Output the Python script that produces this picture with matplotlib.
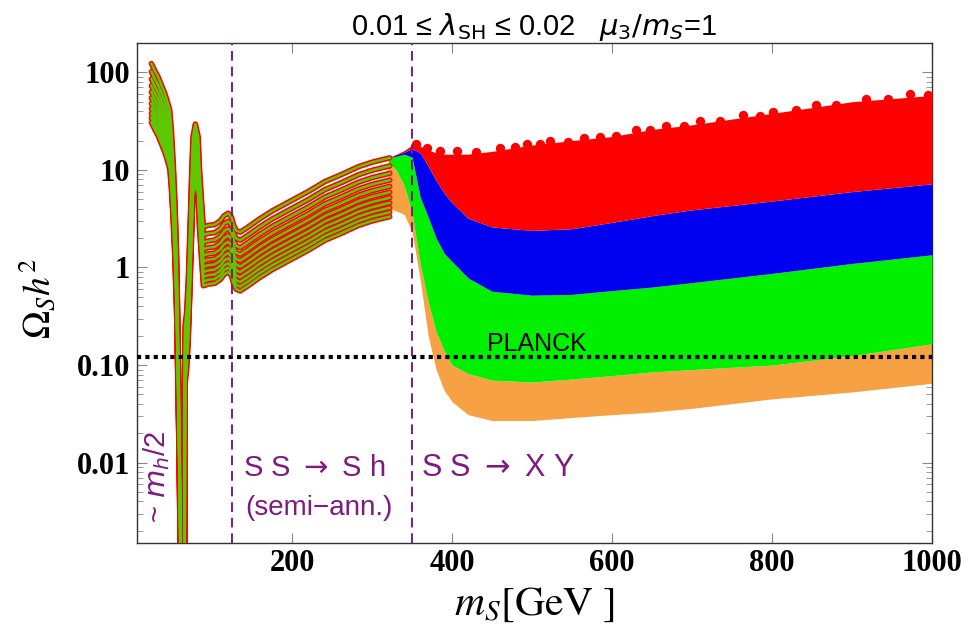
import numpy as np
import matplotlib
matplotlib.use('Agg')
import matplotlib.pyplot as plt
from matplotlib.ticker import FixedLocator, FixedFormatter, LogLocator, NullFormatter

# ------------------------------------------------------------------
# data
# ------------------------------------------------------------------
# lambda_SH values of the low-mass curve family
lam_sh = [0.010, 0.011, 0.012, 0.013, 0.014, 0.015, 0.016, 0.017, 0.018, 0.019, 0.020]

# low-mass curve for lambda_SH = 0.01 (m_S in GeV, Omega h^2)
m_low = [24, 28, 32.5, 36, 40.8, 44, 47, 49, 51.3, 53.4, 55.4, 57, 58.5, 60, 61, 61.6,
         65.5, 66, 68, 70, 72, 74, 76, 79, 82.5, 84, 86.7, 89, 95, 103, 110, 115, 120,
         124, 127, 130, 135, 145, 158, 175, 200, 220, 241, 262, 283, 300, 322]
omega_low = [123, 105, 89.5, 76, 60.6, 50, 40.9, 25.6, 11.8, 4.9, 1.5, 0.3, 0.05, 0.006, 0.0012, 0.0003,
             0.0003, 0.25, 0.35, 0.71, 2.1, 7.3, 21.9, 29.5, 21.9, 10.8, 4.9, 2.6, 2.7, 2.75, 3.0, 3.4, 3.6,
             3.3, 2.7, 2.4, 2.3, 2.6, 3.1, 3.8, 4.9, 6.0, 7.6, 9.0, 10.8, 12.0, 13.3]

# high-mass scan: band boundaries
m_band = [320, 330, 340, 350, 360, 370, 380, 390, 400, 420, 450, 500, 550, 600, 650, 700, 800, 900, 1000]
red_top = [13.3, 14.5, 15.8, 18, 17.5, 16, 15, 14.5, 14.5, 14.5, 15.5, 18, 20, 22, 26, 29, 38, 50, 58]
red_blue = [13.3, 14.3, 15.2, 16.5, 15, 11, 7.8, 5.8, 4.6, 3.2, 2.6, 2.4, 2.5, 2.9, 3.4, 3.9, 4.8, 6.0, 7.2]
blue_green = [13.3, 13.8, 14.5, 13.5, 5.3, 3.3, 2.0, 1.4, 1.15, 0.78, 0.57, 0.52, 0.53, 0.58, 0.63, 0.7, 0.87, 1.1, 1.35]
green_orange = [12, 10, 7, 3.6, 1.1, 0.45, 0.22, 0.14, 0.1, 0.082, 0.07, 0.067, 0.072, 0.078, 0.085, 0.09, 0.1, 0.125, 0.165]
orange_bot = [4.0, 3.8, 3.5, 2.3, 0.76, 0.2, 0.09, 0.055, 0.042, 0.031, 0.027, 0.027, 0.029, 0.031, 0.033, 0.036, 0.045, 0.053, 0.065]

# stray red points making the ragged top edge of the red band
red_dots_m = [355, 368, 385, 406, 430, 460, 478, 493, 510, 522, 545, 565, 585, 605, 630, 648,
              667, 690, 710, 735, 764, 785, 801, 830, 855, 880, 917, 945, 972, 995]
red_dots_om = [18.5, 16.8, 15.5, 15.6, 15.2, 16.8, 17.0, 18.5, 18.3, 20.0, 19.5, 21.0, 22.0, 22.5, 25.5, 25.5,
               28.0, 28.5, 31.5, 32.0, 36.5, 36.0, 39.5, 41.0, 46.0, 46.0, 53.0, 53.0, 60.0, 58.0]

planck = 0.12
m_h_line = 125
m_xy_line = 350

x_ticks = [200, 400, 600, 800, 1000]
y_ticks = [100, 10, 1, 0.1, 0.01]
y_tick_labels = ['100', '10', '1', '0.10', '0.01']

# ------------------------------------------------------------------
# figure
# ------------------------------------------------------------------
W, H = 973, 630
fig = plt.figure(figsize=(W / 100, H / 100), dpi=100)
ax = fig.add_axes([137 / W, 1 - 543 / H, (932 - 137) / W, 500 / H])
ax.set_yscale('log')
ax.set_xlim(6, 1000)
ax.set_ylim(0.0015, 200)

PURPLE = '#7f1a80'
c_orange = '#f6a244'
c_green = '#00f000'
c_blue = '#0000f0'
c_red = '#ff0000'
SANS = ['Liberation Sans', 'DejaVu Sans']

# bands of the high-mass scan
ax.fill_between(m_band, orange_bot, green_orange, color=c_orange, lw=0, zorder=2)
ax.fill_between(m_band, green_orange, blue_green, color=c_green, lw=0, zorder=3)
ax.fill_between(m_band, blue_green, red_blue, color=c_blue, lw=0, zorder=4)
ax.fill_between(m_band, red_blue, red_top, color=c_red, lw=0, zorder=5)
ax.scatter(red_dots_m, red_dots_om, s=45, color=c_red, lw=0, zorder=5)

# low-mass curves: red rim + green core (like red-edged green markers)
m_low = np.array(m_low)
omega_low = np.array(omega_low)
for lam in lam_sh:
    om = omega_low * (lam_sh[0] / lam) ** 2
    ax.plot(m_low, om, color=c_red, lw=4.0, solid_joinstyle='round',
            solid_capstyle='round', zorder=6)
    ax.plot(m_low, om, color='#5cc800', lw=1.8, solid_joinstyle='round', zorder=7)

# reference lines
ax.axhline(planck, color='black', lw=3, ls=(0, (1, 1)), zorder=8)
for xv in (m_h_line, m_xy_line):
    ax.axvline(xv, color=PURPLE, lw=1.4, ls=(0, (5, 3)), zorder=9)

# text
ax.text(506, 0.165, 'PLANCK', fontsize=18, family=SANS, ha='center',
        va='center', zorder=10)
ax.text(31, 0.0072, r'~ $m_h$/2', fontsize=21, color=PURPLE, rotation=90, ha='center',
        va='center', family=SANS, math_fontfamily='dejavusans', zorder=10)
ax.text(228, 0.0088, r'S S $\rightarrow$ S h', fontsize=21, color=PURPLE, ha='center',
        va='center', family=SANS, math_fontfamily='dejavusans')
ax.text(234, 0.0034, '(semi−ann.)', fontsize=20, color=PURPLE, ha='center', va='center',
        family=SANS)
ax.text(361, 0.0088, r'S S $\rightarrow$ X Y', fontsize=22, color=PURPLE, ha='left',
        va='center', family=SANS, math_fontfamily='dejavusans')

ax.set_title(r'0.01 ≤ $\lambda_{\rm SH}$ ≤ 0.02   $\mu_3/m_S$=1', fontsize=21,
             family=SANS, math_fontfamily='dejavusans', pad=5)

# axes, ticks
ax.xaxis.set_major_locator(FixedLocator(x_ticks))
ax.yaxis.set_major_locator(FixedLocator(y_ticks))
ax.yaxis.set_major_formatter(FixedFormatter(y_tick_labels))
ax.yaxis.set_minor_locator(LogLocator(base=10, subs=np.arange(2, 10)))
ax.yaxis.set_minor_formatter(NullFormatter())
ax.tick_params(which='both', direction='in', color='#888888', top=True, right=True)
ax.tick_params(which='major', length=7, width=0.8)
ax.tick_params(which='minor', length=4, width=0.6)
ax.tick_params(axis='x', pad=4)
ax.tick_params(axis='y', pad=5)
for lab in ax.get_xticklabels() + ax.get_yticklabels():
    lab.set_family('Liberation Serif')
    lab.set_fontweight('bold')
    lab.set_fontsize(22)
for sp in ax.spines.values():
    sp.set_color('#333333')
    sp.set_linewidth(1.0)

ax.set_xlabel(r'$m_S[\mathrm{GeV\ }]$', fontsize=30, math_fontfamily='stix')
ax.set_ylabel(r'$\Omega_S h^2$', fontsize=27, math_fontfamily='stix')
ax.xaxis.set_label_coords(0.5, -0.078)
ax.yaxis.set_label_coords(-0.099, 0.49)

fig.savefig('out.png', dpi=100)
